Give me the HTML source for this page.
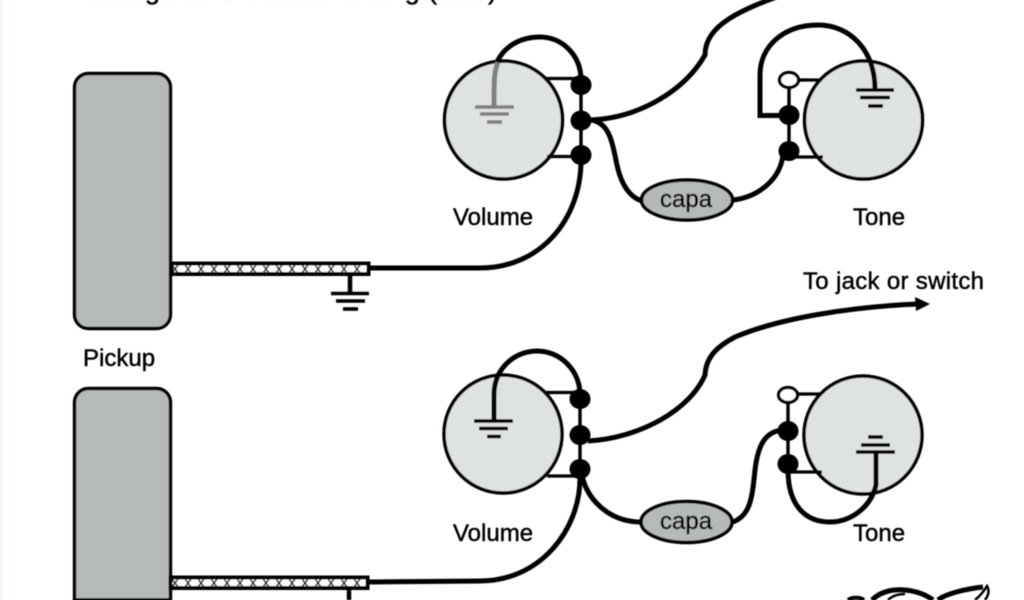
<!DOCTYPE html>
<html><head><meta charset="utf-8"><style>
html,body{margin:0;padding:0;background:#fff;width:1024px;height:600px;overflow:hidden}
svg{display:block}
text{font-family:"Liberation Sans",sans-serif;fill:#000;stroke:#000;stroke-width:.45px}
</style></head><body>
<svg width="1024" height="600" viewBox="0 0 1024 600" xmlns="http://www.w3.org/2000/svg">
<defs>
<pattern id="braid" x="172" y="265" width="13" height="8" patternUnits="userSpaceOnUse">
<rect width="13" height="8" fill="#fff"/>
<path d="M0,0 L6,8 M6,0 L0,8" stroke="#111" stroke-width="1.5"/>
</pattern>
<pattern id="braid2" x="172" y="579" width="13" height="8" patternUnits="userSpaceOnUse">
<rect width="13" height="8" fill="#fff"/>
<path d="M0,0 L6,8 M6,0 L0,8" stroke="#111" stroke-width="1.5"/>
</pattern>
<filter id="sh" x="-5%" y="-5%" width="110%" height="110%"><feGaussianBlur stdDeviation="0.4"/></filter>
</defs>
<rect x="0" y="0" width="3" height="600" fill="#f1fbf8"/>
<g filter="url(#sh)">
<text x="82" y="-1" font-size="27" textLength="415" lengthAdjust="spacing">Vintage 50's Volume Wiring (Neo)</text>

<!-- pickups -->
<rect x="74.5" y="73.5" width="96" height="255" rx="14" fill="#b6b9b9" stroke="#000" stroke-width="3.4"/>
<path d="M74.500,600 V402.500 A14,14 0 0 1 88.500,388.500 H156.500 A14,14 0 0 1 170.500,402.500 V600 Z" fill="#b6b9b9" stroke="#000" stroke-width="3.4"/>

<!-- cables -->
<rect x="171.5" y="263.500" width="197" height="10.500" fill="url(#braid)" stroke="#000" stroke-width="4"/>
<rect x="170.5" y="577.500" width="197" height="10.500" fill="url(#braid2)" stroke="#000" stroke-width="4"/>
<g fill="none" stroke="#000" stroke-width="3.6">
<path d="M350,275 V293" stroke-width="4.500"/>
<path d="M331,293.5 H369"/>
<path d="M336,301 H365"/>
<path d="M343,309 H358"/>
<path d="M349,589 V600" stroke-width="4.500"/>
</g>

<!-- top volume -->
<circle cx="503.5" cy="120" r="59" fill="#dfe2e3" stroke="#000" stroke-width="3.500"/>
<g fill="none" stroke="#808080" stroke-width="3.6">
<path d="M498,62 C494,72 494,80 494,107" stroke-width="5"/>
<path d="M475,107 H514"/><path d="M480,114 H509"/><path d="M487,122 H502"/>
</g>
<g fill="none" stroke="#000">
<path d="M497,62 C505,45 522,37 540,37 C562,37 581,55 581,80" stroke-width="5"/>
<path d="M546,78.500 H581 M547,156.500 H581" stroke-width="3.200"/>
<path d="M581,85 V155" stroke-width="3.400"/>
<path d="M590,120 C640,118 685,90 705,55 C705,25 740,10 790,-8" stroke-width="5"/>
<path d="M592,120 C610,124 612,142 617,165 C622,188 632,198 642,201" stroke-width="5"/>
<path d="M581,160 C581,220 540,268 480,268 L369,268" stroke-width="5"/>
<path d="M733,200 C758,197 780,180 783,155" stroke-width="5"/>
</g>
<ellipse cx="581" cy="85" rx="10.500" ry="10"/><ellipse cx="581" cy="120.500" rx="10.500" ry="10"/><ellipse cx="581" cy="155" rx="10.500" ry="10"/>
<ellipse cx="687" cy="200" rx="45.500" ry="20" fill="#b6b9b9" stroke="#000" stroke-width="3.500"/>

<!-- top tone -->
<circle cx="863.500" cy="120" r="59" fill="#dfe2e3" stroke="#000" stroke-width="3.500"/>
<g fill="none" stroke="#000">
<path d="M789,80 H820 M789,157 H823" stroke-width="3.200"/>
<path d="M789,80 V151" stroke-width="3.400"/>
<path d="M789,115.500 H760 V75 C760,45 785,25 818,25 C850,25 875,50 875,90" stroke-width="5"/>
<path d="M856,90 H894" stroke-width="3.600"/><path d="M860,97.500 H890" stroke-width="3.600"/><path d="M868,106 H883" stroke-width="3.600"/>
</g>
<ellipse cx="789" cy="80" rx="9.500" ry="7.500" fill="#fff" stroke="#000" stroke-width="3.200"/>
<ellipse cx="789" cy="115" rx="10.500" ry="10"/><ellipse cx="789" cy="151" rx="10.500" ry="10"/>

<!-- bottom volume -->
<circle cx="503" cy="434" r="59" fill="#dfe2e3" stroke="#000" stroke-width="3.500"/>
<g fill="none" stroke="#000">
<path d="M494,421 V395 C494,368 515,351 537,351 C560,351 580,370 580,395" stroke-width="5"/>
<path d="M474,421 H513 M479,428.500 H508 M487,436.500 H501" stroke-width="3.600"/>
<path d="M545,392.500 H580 M547,476 H580" stroke-width="3.200"/>
<path d="M580,399 V469" stroke-width="3.400"/>
<path d="M588,441 C640,438 690,410 705,375 C706,355 720,345 735,337 C780,318 850,307 917,304" stroke-width="5"/>
<path d="M581,470 C585,500 610,522 641,522" stroke-width="5"/>
<path d="M580,478 C580,530 540,581 480,581 L368,582" stroke-width="5"/>
<path d="M733,522 C750,515 752,500 755,470 C758,445 765,432 782,430" stroke-width="5"/>
</g>
<path d="M930,304 L915,297 L916,311 Z"/>
<ellipse cx="580" cy="399" rx="10.500" ry="10"/><ellipse cx="580" cy="435" rx="10.500" ry="10"/><ellipse cx="580" cy="469" rx="10.500" ry="10"/>
<ellipse cx="686.500" cy="522" rx="45.500" ry="20.500" fill="#b6b9b9" stroke="#000" stroke-width="3.500"/>

<!-- bottom tone -->
<circle cx="863" cy="435" r="59" fill="#dfe2e3" stroke="#000" stroke-width="3.500"/>
<g fill="none" stroke="#000">
<path d="M788,394 H820 M788,472 H822" stroke-width="3.200"/>
<path d="M788,394 V464" stroke-width="3.400"/>
<path d="M876,452 V485 C870,510 848,522 830,522 C805,522 788,505 788,470" stroke-width="5"/>
<path d="M856,452 H895" stroke-width="3.600"/><path d="M861,445 H890" stroke-width="3.600"/><path d="M868,437 H883" stroke-width="3.600"/>
</g>
<ellipse cx="788" cy="395" rx="9.500" ry="7.500" fill="#fff" stroke="#000" stroke-width="3.200"/>
<ellipse cx="788" cy="431" rx="10.500" ry="10"/><ellipse cx="788" cy="464" rx="10.500" ry="10"/>

<!-- signature -->
<g fill="none" stroke="#000" stroke-linecap="butt">
<path d="M848,600 C852,597 860,597 864,600" stroke-width="4"/>
<path d="M872,600 C880,592 892,589 905,590 C915,591 925,594 933,600" stroke-width="5"/>
<path d="M888,600 C892,596 898,594 905,594" stroke-width="2.500"/>
<path d="M938,600 C945,594 965,589 983,587" stroke-width="5"/>
<path d="M975,600 C980,596 984,591 987,586 C990,591 988,596 985,600" stroke-width="2.500"/>
</g>

<!-- labels -->
<text x="83" y="366" font-size="24">Pickup</text>
<text x="453" y="225" font-size="24">Volume</text>
<text x="853" y="225" font-size="24">Tone</text>
<text x="660" y="207" font-size="24">capa</text>
<text x="453" y="541" font-size="24">Volume</text>
<text x="853" y="541" font-size="24">Tone</text>
<text x="660" y="529" font-size="24">capa</text>
<text x="803" y="289" font-size="24" textLength="181" lengthAdjust="spacing">To jack or switch</text>
</g>
</svg>
</body></html>
